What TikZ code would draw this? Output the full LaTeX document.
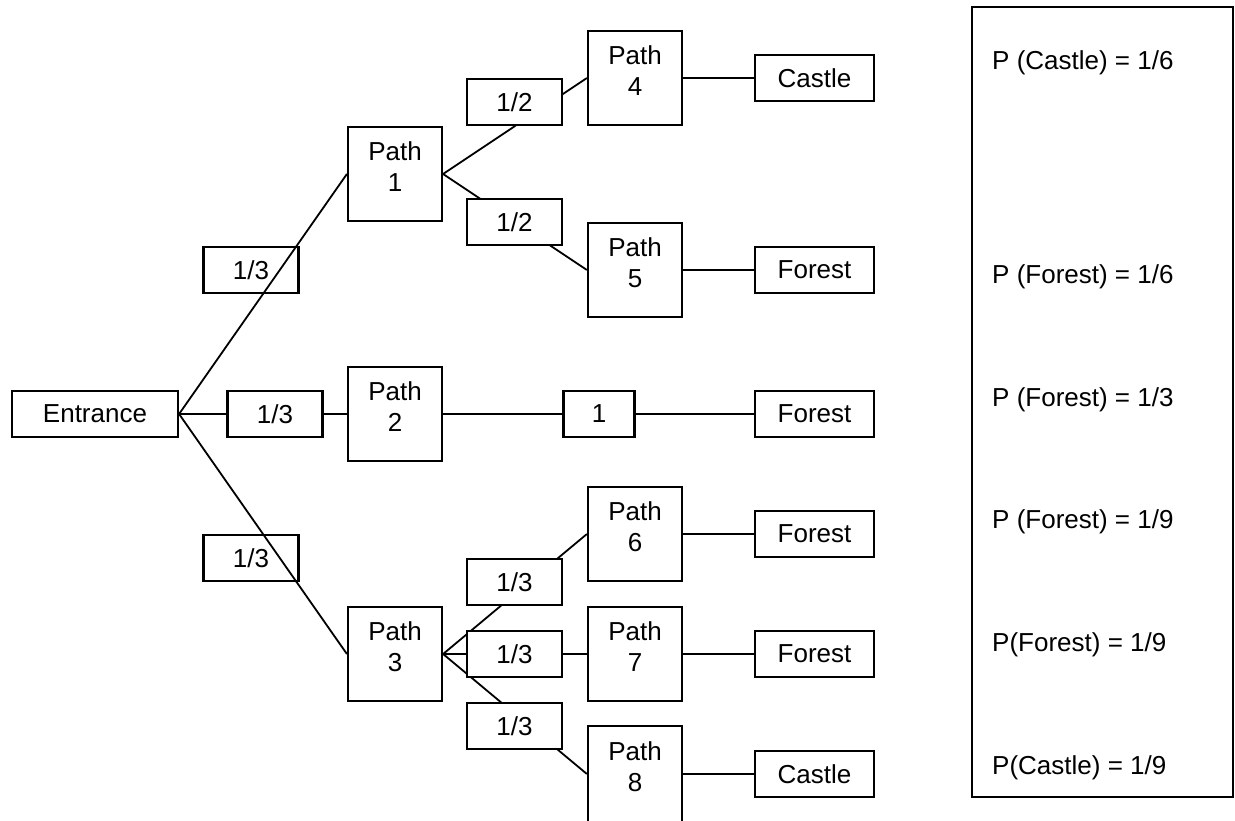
\documentclass[tikz,border=0pt]{standalone}
\usepackage{fontspec}
\setmainfont{Liberation Sans}
\usetikzlibrary{backgrounds}
\begin{document}
\begin{tikzpicture}[x=1pt,y=-1pt,
  every node/.style={font=\fontsize{26}{31}\selectfont, inner sep=0pt},
  box/.style={draw, line width=2.2pt, rectangle},
  pbox/.style={box, minimum width=94pt, minimum height=94pt, fill=white},
  lbl/.style={box, minimum width=95pt, minimum height=46pt, fill=white},
  lblo/.style={box, minimum width=95pt, minimum height=46pt},
  endbox/.style={box, minimum width=119pt, minimum height=46pt, fill=white},
  ptext/.style={align=center},
  rtext/.style={anchor=west},
  conn/.style={line width=1.8pt}
]
\useasboundingbox (0,0) rectangle (1235,821);

\node[box, minimum width=166pt, minimum height=46pt, fill=white] (E) at (95,414) {Entrance};

\node[lblo] (L1) at (251,270) {1/3};
\node[lbl]  (L2) at (275,414) {1/3};
\node[lblo] (L3) at (251,558) {1/3};

\node[pbox] (P1) at (395,174) {};
\node[pbox] (P2) at (395,414) {};
\node[pbox] (P3) at (395,654) {};
\node[ptext] (P1t) at (395,167) {Path\\1};
\node[ptext] (P2t) at (395,407) {Path\\2};
\node[ptext] (P3t) at (395,647) {Path\\3};

\node[lbl] (L4) at (514.5,102) {1/2};
\node[lbl] (L5) at (514.5,222) {1/2};
\node[lbl] (L6) at (514.5,582) {1/3};
\node[lbl] (L7) at (514.5,654) {1/3};
\node[lbl] (L8) at (514.5,726) {1/3};

\node[box, minimum width=71pt, minimum height=46pt, fill=white] (One) at (599,414) {1};

\node[pbox] (P4) at (635,78) {};
\node[pbox] (P5) at (635,270) {};
\node[pbox] (P6) at (635,534) {};
\node[pbox] (P7) at (635,654) {};
\node[pbox, minimum height=96pt] (P8) at (635,774) {};
\node[ptext] (P4t) at (635,71) {Path\\4};
\node[ptext] (P5t) at (635,263) {Path\\5};
\node[ptext] (P6t) at (635,527) {Path\\6};
\node[ptext] (P7t) at (635,647) {Path\\7};
\node[ptext] (P8t) at (635,767) {Path\\8};

\node[endbox] (C1) at (814.5,78) {Castle};
\node[endbox] (F1) at (814.5,270) {Forest};
\node[endbox] (F2) at (814.5,414) {Forest};
\node[endbox] (F3) at (814.5,534) {Forest};
\node[endbox] (F4) at (814.5,654) {Forest};
\node[endbox] (C2) at (814.5,774) {Castle};

\node[box, minimum width=261pt, minimum height=790pt] (panel) at (1102.5,402) {};
\node[rtext] (R1) at (992,63) {P (Castle) = 1/6};
\node[rtext] (R2) at (992,277) {P (Forest) = 1/6};
\node[rtext] (R3) at (992,400) {P (Forest) = 1/3};
\node[rtext] (R4) at (992,522) {P (Forest) = 1/9};
\node[rtext] (R5) at (992,645) {P(Forest) = 1/9};
\node[rtext] (R6) at (992,768) {P(Castle) = 1/9};

\begin{scope}[on background layer]
\draw[conn] (E.east) -- (P1.west);
\draw[conn] (E.east) -- (L2.west);
\draw[conn] (L2.east) -- (P2.west);
\draw[conn] (E.east) -- (P3.west);
\draw[conn] (P1.east) -- (P4.west);
\draw[conn] (P1.east) -- (P5.west);
\draw[conn] (P2.east) -- (One.west);
\draw[conn] (One.east) -- (F2.west);
\draw[conn] (P3.east) -- (P6.west);
\draw[conn] (P3.east) -- (P7.west);
\draw[conn] (P3.east) -- (P8.west);
\draw[conn] (P4.east) -- (C1.west);
\draw[conn] (P5.east) -- (F1.west);
\draw[conn] (P6.east) -- (F3.west);
\draw[conn] (P7.east) -- (F4.west);
\draw[conn] (P8.east) -- (C2.west);
\end{scope}
\end{tikzpicture}
\end{document}
